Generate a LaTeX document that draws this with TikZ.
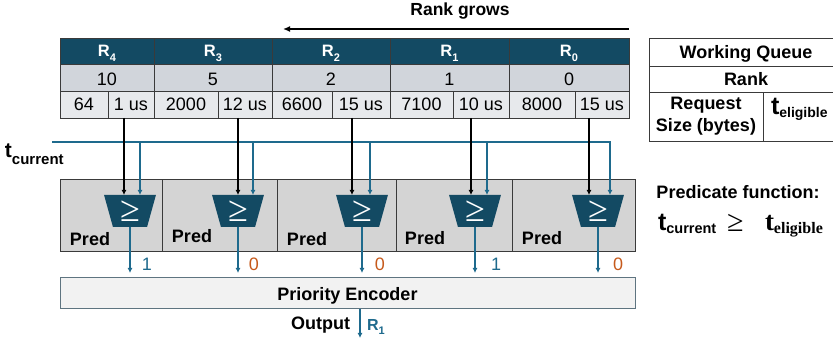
\documentclass[tikz,border=0pt]{standalone}
\usepackage{fontspec}
\setmainfont{Liberation Sans}
\newfontfamily\timesfam{Liberation Serif}
\usetikzlibrary{arrows.meta,shapes.geometric}

\definecolor{hdr}{HTML}{134A63}
\definecolor{rankfill}{HTML}{D1D5DB}
\definecolor{sizefill}{HTML}{E7E9EC}
\definecolor{predfill}{HTML}{D4D4D4}
\definecolor{encfill}{HTML}{F2F2F2}
\definecolor{encline}{HTML}{5E7480}
\definecolor{wire}{HTML}{1E6A8D}
\definecolor{zero}{HTML}{C65A1C}
\definecolor{grid}{HTML}{3A3A3A}

% font size in pt, leading equal to size
\newcommand\fsz[1]{\fontsize{#1}{#1}\selectfont}
% lowered subscript: drop (pt), size (pt), text
\newcommand\lowsub[3]{\raisebox{-#1pt}{\fsz{#2}#3}}

\begin{document}
\begin{tikzpicture}[x=1pt,y=-1pt,
  every node/.style={inner sep=0pt, outer sep=0pt},
  cellbox/.style={draw=grid, line width=0.8pt, anchor=north west},
  hdrcell/.style={cellbox, fill=hdr, text=white, font=\bfseries\fsz{16.5}, text height=19pt, text depth=7pt},
  rankcell/.style={cellbox, fill=rankfill, font=\fsz{18}, text height=22pt, text depth=5pt},
  sizecell/.style={cellbox, fill=sizefill, font=\fsz{18}, text height=20pt, text depth=7pt},
  predcell/.style={draw=grid, line width=1pt, fill=predfill, anchor=north west, minimum height=72pt},
  predlbl/.style={anchor=base, font=\bfseries\fsz{18}},
  cmpbox/.style={trapezium, shape border rotate=180, trapezium stretches=true,
    trapezium left angle=76, trapezium right angle=76, minimum width=52pt, minimum height=32pt,
    fill=hdr, text=white, font=\timesfam\fsz{36}},
  eligarrow/.style={draw=black, line width=1.6pt, -{Latex[length=5pt,width=5pt]}},
  wirearrow/.style={draw=wire, line width=1.3pt, -{Latex[length=5pt,width=5pt]}},
  bitlbl/.style={anchor=base, font=\fsz{18}}
]
\useasboundingbox (0,0) rectangle (833,344);
\clip (0,0) rectangle (833,344);

% direction of growing rank
\node[anchor=base, font=\bfseries\fsz{17.5}] (rg) at (460,16) {Rank grows};
\coordinate (rgfrom) at (629,29);
\coordinate (rgto) at (283,29);
\draw[line width=1.8pt, -{Latex[length=7pt,width=6pt]}] (rgfrom) -- (rgto);

% working queue entries
\foreach \nm/\x/\w in {4/60/94, 3/154/118, 2/272/118, 1/390/119, 0/509/120}
  \node[hdrcell, minimum width=\w pt] (h\nm) at (\x,38) {R\lowsub{5}{11}{\nm}};
\foreach \nm/\x/\w/\v in {4/60/94/10, 3/154/118/5, 2/272/118/2, 1/390/119/1, 0/509/120/0}
  \node[rankcell, minimum width=\w pt] (r\nm) at (\x,64) {\v};
\foreach \nm/\x/\w/\v in {s4a/60/48/64, s4b/108/46/1 us, s3a/154/64/2000, s3b/218/54/12 us,
    s2a/272/60/6600, s2b/332/58/15 us, s1a/390/63/7100, s1b/453/56/10 us,
    s0a/509/66/8000, s0b/575/54/15 us}
  \node[sizecell, minimum width=\w pt] (\nm) at (\x,91) {\v};

% legend table
\node[cellbox, minimum width=194pt, text height=21pt, text depth=7pt, font=\bfseries\fsz{18}] (wq) at (649,38) {Working Queue};
\node[cellbox, minimum width=194pt, text height=20pt, text depth=6pt, font=\bfseries\fsz{18}] (rk) at (649,66) {Rank};
\node[cellbox, minimum width=114pt, minimum height=49pt, align=center, font=\bfseries\fontsize{18}{22}\selectfont] (rs) at (649,92) {Request\\Size (bytes)};
\node[cellbox, minimum width=80pt, minimum height=49pt] (te) at (763,92) {};
\node[anchor=base west, font=\bfseries] (tel) at (771,115) {\fsz{25}t\lowsub{3}{14}{eligible}};

% predicate function
\node[anchor=base, font=\bfseries\fsz{18}] (pf) at (738,199) {Predicate function:};
\node[anchor=base west, font=\bfseries] (pl) at (658,231) {\fsz{25}t\lowsub{3}{14.5}{current}};
\node[anchor=base west] (pge) at (727,232) {\timesfam\fsz{30}≥};
\node[anchor=base west, font=\bfseries] (pr) at (765,231) {\timesfam\fsz{27}t\lowsub{3}{16}{eligible}};

% predicate units
\foreach \nm/\x/\w in {4/60/102, 3/162/115, 2/277/119, 1/396/116, 0/512/123}
  \node[predcell, minimum width=\w pt] (p\nm) at (\x,180) {};
\foreach \nm/\x/\y in {4/90/246, 3/192/243, 2/307/246, 1/425/245, 0/542/245}
  \node[predlbl] (pl\nm) at (\x,\y) {Pred};
\foreach \nm/\x in {4/130, 3/238, 2/362, 1/475, 0/598}
  \node[cmpbox] (cmp\nm) at (\x,211) {≥};

% current time
\node[anchor=base west, font=\bfseries] (tc) at (5,158) {\fsz{21}t\lowsub{7}{15}{current}};
\coordinate (tcur) at (52,142);
\foreach \nm/\x in {4/140, 3/253, 2/370, 1/487, 0/610}
  \coordinate (bin\nm) at (\x,195);
\foreach \nm/\x in {4/124, 3/238, 2/352, 1/471, 0/589}
  \coordinate (ein\nm) at (\x,195);
\draw[wirearrow] (tcur) -| (bin0);
\foreach \nm in {4,3,2,1}
  \draw[wirearrow] (bin\nm |- tcur) -- (bin\nm);

% eligible times into the comparators
\draw[eligarrow] (ein4 |- s4b.south) -- (ein4);
\draw[eligarrow] (ein3 |- s3b.south) -- (ein3);
\draw[eligarrow] (ein2 |- s2b.south) -- (ein2);
\draw[eligarrow] (ein1 |- s1b.south) -- (ein1);
\draw[eligarrow] (ein0 |- s0b.south) -- (ein0);

% priority encoder
\node[anchor=north west, minimum width=575pt, fill=encfill, draw=encline, line width=1pt,
  font=\bfseries\fsz{18}, text height=22.5pt, text depth=8.5pt] (enc) at (60,278) {Priority Encoder};

% predicate results
\foreach \nm in {4,3,2,1,0}
  \draw[wirearrow, shorten >=5pt] (cmp\nm.south) -- (cmp\nm.south |- enc.north);
\node[bitlbl, text=wire] (v4) at (147,271) {1};
\node[bitlbl, text=zero] (v3) at (254,271) {0};
\node[bitlbl, text=zero] (v2) at (380,271) {0};
\node[bitlbl, text=wire] (v1) at (496,271) {1};
\node[bitlbl, text=zero] (v0) at (618,271) {0};

% output
\coordinate (outend) at (360,338);
\draw[wirearrow] (outend |- enc.south) -- (outend);
\node[anchor=base east, font=\bfseries\fsz{18}] (outl) at (350,330) {Output};
\node[anchor=base west, font=\bfseries\fsz{16}, text=wire] (outr) at (367,331) {R\lowsub{4}{11}{1}};
\end{tikzpicture}
\end{document}
